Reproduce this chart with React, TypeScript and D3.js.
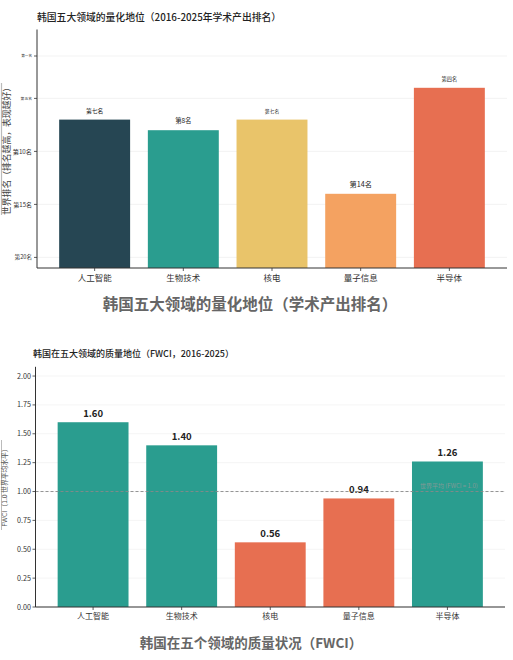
import React from "react";
import * as d3 from "d3";

const categories = ["人工智能", "生物技术", "核电", "量子信息", "半导体"];
const ranks = [7, 8, 7, 14, 4];
const rankLabels = ["第七名", "第8名", "第七名", "第14名", "第四名"];
const rankLabelSizes = [5.8, 6.4, 4.8, 7.2, 5.2];
const rankColors = ["#264653", "#2a9d8f", "#e9c46a", "#f4a261", "#e76f51"];
const rankTicks = [1, 5, 10, 15, 20];
const rankTickLabels = ["第一名", "第五名", "第10名", "第15名", "第20名"];
const rankTickSizes = [3.6, 3.8, 6.2, 6, 5.6];

const fwci = [1.6, 1.4, 0.56, 0.94, 1.26];
const fwciTicks = [0, 0.25, 0.5, 0.75, 1.0, 1.25, 1.5, 1.75, 2.0];
const fwciBaseline = 1.0;

const FONT = "'Noto Sans CJK SC', 'Noto Sans', sans-serif";

export default function App() {
  // top chart scales
  const x1 = d3.scaleLinear().domain([-0.65, 4.65]).range([37, 507]);
  const y1 = d3.scaleLinear().domain([21, -1.5]).range([268, 29.5]);
  const bw1 = x1(0.4) - x1(-0.4);

  // bottom chart scales
  const x2 = d3.scaleLinear().domain([-0.65, 4.65]).range([35.5, 505]);
  const y2 = d3.scaleLinear().domain([0, 2.08]).range([607, 366.8]);
  const bw2 = x2(0.4) - x2(-0.4);

  return (
    <div style={{ position: "absolute", left: 0, top: 0 }}>
      <svg width={513} height={660} style={{ display: "block", background: "#fff" }} fontFamily={FONT}>
        {/* ===== Top chart ===== */}
        <text x={37} y={20.5} fontSize={9.8} fontWeight={500} fill="#222">
          韩国五大领域的量化地位（2016-2025年学术产出排名）
        </text>
        {rankTicks.map((t, i) => (
          <g key={"rt" + i}>
            <line x1={37} x2={507} y1={y1(t)} y2={y1(t)} stroke="#f0f0f0" strokeWidth={0.8} />
            <line x1={34} x2={37} y1={y1(t)} y2={y1(t)} stroke="#333" strokeWidth={0.8} />
            <text x={32} y={y1(t)} dy="0.35em" textAnchor="end" fontSize={rankTickSizes[i]} fill="#333">
              {rankTickLabels[i]}
            </text>
          </g>
        ))}
        {categories.map((c, i) => {
          const top = y1(ranks[i]);
          return (
            <g key={"rb" + i}>
              <rect x={x1(i) - bw1 / 2} y={top} width={bw1} height={y1(21) - top} fill={rankColors[i]} />
              <text x={x1(i)} y={top - 7} textAnchor="middle" fontSize={rankLabelSizes[i]} fill="#222">
                {rankLabels[i]}
              </text>
              <line x1={x1(i)} x2={x1(i)} y1={268} y2={271} stroke="#333" strokeWidth={0.8} />
              <text x={x1(i)} y={280.5} textAnchor="middle" fontSize={8.5} fill="#333">
                {c}
              </text>
            </g>
          );
        })}
        <line x1={37} x2={37} y1={29.5} y2={268} stroke="#333" strokeWidth={1} />
        <line x1={37} x2={507} y1={268} y2={268} stroke="#333" strokeWidth={1} />
        <line x1={1.5} x2={1.5} y1={83} y2={215} stroke="#bbb" strokeWidth={1.2} />
        <text
          transform={`translate(10,${149}) rotate(-90)`}
          textAnchor="middle"
          fontSize={8.8}
          fill="#444"
        >
          世界排名（排名越高，表现越好）
        </text>
        <text x={250} y={310} textAnchor="middle" fontSize={15.5} fontWeight={600} fill="#666">
          韩国五大领域的量化地位（学术产出排名）
        </text>

        {/* ===== Bottom chart ===== */}
        <text x={33} y={357} fontSize={9} fontWeight={500} fill="#222">
          韩国在五大领域的质量地位（FWCI，2016-2025）
        </text>
        {fwciTicks.map((t, i) => (
          <g key={"ft" + i}>
            <line x1={35.5} x2={505} y1={y2(t)} y2={y2(t)} stroke="#f3f3f3" strokeWidth={0.8} />
            <line x1={32.5} x2={35.5} y1={y2(t)} y2={y2(t)} stroke="#333" strokeWidth={0.8} />
            <text x={31} y={y2(t)} dy="0.35em" textAnchor="end" fontSize={7.2} fill="#333">
              {d3.format(".2f")(t)}
            </text>
          </g>
        ))}
        {categories.map((c, i) => {
          const top = y2(fwci[i]);
          return (
            <g key={"fb" + i}>
              <rect
                x={x2(i) - bw2 / 2}
                y={top}
                width={bw2}
                height={y2(0) - top}
                fill={fwci[i] >= fwciBaseline ? "#2a9d8f" : "#e76f51"}
              />
              <text x={x2(i)} y={top - 5} textAnchor="middle" fontSize={9.5} fontWeight={700} fill="#222">
                {d3.format(".2f")(fwci[i])}
              </text>
              <line x1={x2(i)} x2={x2(i)} y1={607} y2={610} stroke="#333" strokeWidth={0.8} />
              <text x={x2(i)} y={619} textAnchor="middle" fontSize={8} fill="#333">
                {c}
              </text>
            </g>
          );
        })}
        <line
          x1={35.5}
          x2={505}
          y1={y2(fwciBaseline)}
          y2={y2(fwciBaseline)}
          stroke="#888"
          strokeWidth={0.9}
          strokeDasharray="3,2"
        />
        <text x={420} y={y2(fwciBaseline) - 4} fontSize={6} fill="#999" opacity={0.8}>
          世界平均 (FWCI = 1.0)
        </text>
        <line x1={35.5} x2={35.5} y1={366.8} y2={607} stroke="#333" strokeWidth={1} />
        <line x1={35.5} x2={505} y1={607} y2={607} stroke="#333" strokeWidth={1} />
        <line x1={1.5} x2={1.5} y1={440} y2={530} stroke="#bbb" strokeWidth={1} />
        <text
          transform={`translate(7,${486}) rotate(-90)`}
          textAnchor="middle"
          fontSize={6.8}
          fill="#555"
        >
          FWCI（1.0 世界平均水平）
        </text>
        <text x={251} y={648} textAnchor="middle" fontSize={13.5} fontWeight={600} fill="#666">
          韩国在五个领域的质量状况（FWCI）
        </text>
      </svg>
    </div>
  );
}
